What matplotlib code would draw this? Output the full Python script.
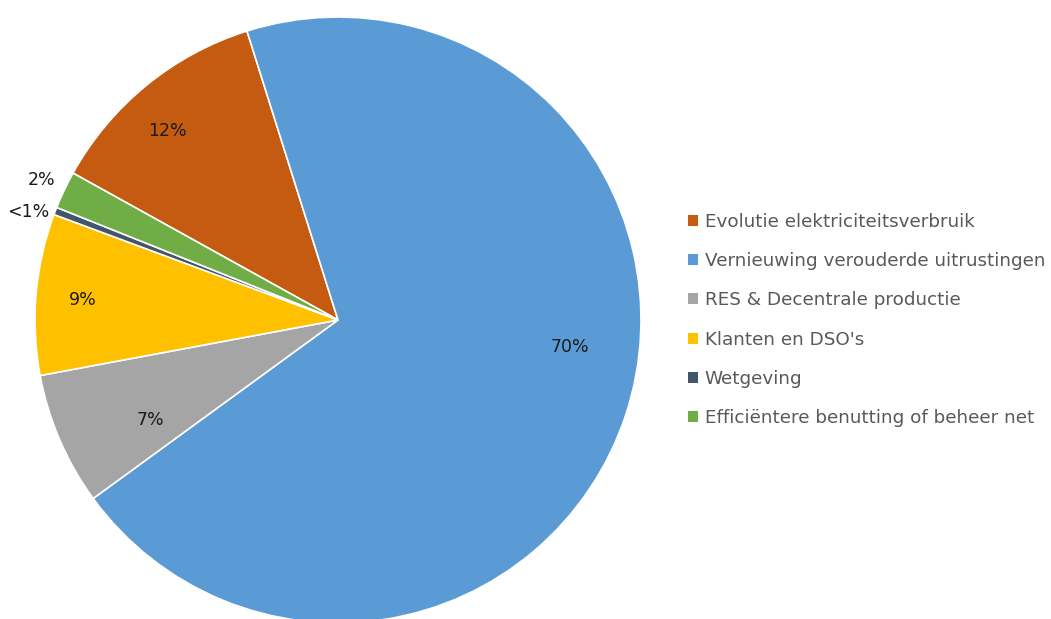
import matplotlib.pyplot as plt
from matplotlib.patches import Patch

# Data
categories = [
    'Evolutie elektriciteitsverbruik',
    'Vernieuwing verouderde uitrustingen',
    'RES & Decentrale productie',
    "Klanten en DSO's",
    'Wetgeving',
    'Efficiëntere benutting of beheer net',
]
shares = [12.1, 69.9, 7.1, 8.6, 0.4, 2.0]
pct_labels = ['12%', '70%', '7%', '9%', '<1%', '2%']

colors = ['#C55A11', '#5B9BD5', '#A5A5A5', '#FFC000', '#44546A', '#70AD47']
# label anchor positions (pie radius = 1)
label_pos = [(-0.564, 0.624), (0.766, -0.089), (-0.620, -0.330),
             (-0.842, 0.066), (-1.023, 0.356), (-0.977, 0.462)]

plt.rcParams['font.family'] = ['DejaVu Sans']

fig = plt.figure(figsize=(10.51, 6.19), dpi=100)
W, H = 1051, 619
cx, cy, r = 338, 320, 303
ax = fig.add_axes([(cx - r) / W, (H - cy - r) / H, 2 * r / W, 2 * r / H])
ax.pie(shares, colors=colors, startangle=151, counterclock=False, radius=1,
       wedgeprops=dict(edgecolor='white', linewidth=1.2))
ax.set_xlim(-1, 1)
ax.set_ylim(-1, 1)
ax.axis('off')

for txt, (x, y) in zip(pct_labels, label_pos):
    ax.text(x, y, txt, ha='center', va='center', fontsize=12.5, color='#1a1a1a')

handles = [Patch(facecolor=c, edgecolor='none') for c in colors]
leg = fig.legend(handles, categories, loc='center left',
                 bbox_to_anchor=(671 / W, 1 - 320 / H), frameon=False,
                 fontsize=13.2, handlelength=0.55, handleheight=0.55,
                 handletextpad=0.38, labelspacing=1.16)
for t in leg.get_texts():
    t.set_color('#595959')

fig.savefig('out.png', dpi=100)
